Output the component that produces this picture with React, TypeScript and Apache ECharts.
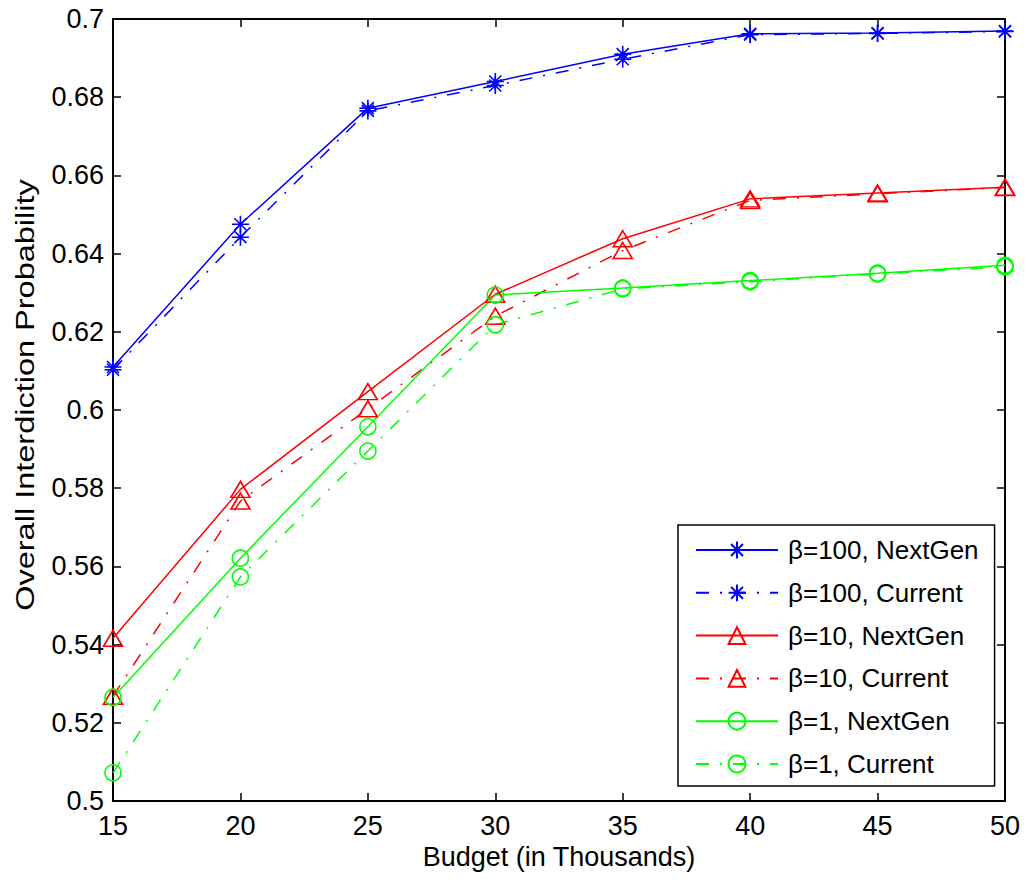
import React, { useEffect, useRef } from "react";
import * as echarts from "echarts";

const budgets = [15, 20, 25, 30, 35, 40, 45, 50];
const b100NextGen = [0.611, 0.6475, 0.6772, 0.684, 0.691, 0.6962, 0.6964, 0.6969];
const b100Current = [0.6103, 0.6442, 0.6765, 0.683, 0.6897, 0.696, 0.6963, 0.6968];
const b10NextGen = [0.5416, 0.5797, 0.6047, 0.6296, 0.6438, 0.654, 0.6555, 0.657];
const b10Current = [0.5268, 0.5767, 0.6003, 0.624, 0.6408, 0.6536, 0.6553, 0.6569];
const b1NextGen = [0.5265, 0.5621, 0.5957, 0.6294, 0.6312, 0.6331, 0.635, 0.637];
const b1Current = [0.5072, 0.5573, 0.5895, 0.6218, 0.631, 0.6328, 0.6348, 0.6366];

const seriesNames = [
  "β=100, NextGen",
  "β=100, Current",
  "β=10, NextGen",
  "β=10, Current",
  "β=1, NextGen",
  "β=1, Current",
];

const FONT = "'Liberation Sans', Arial, Helvetica, sans-serif";
const STAR = "path://M0,-10L0,10M-10,0L10,0M-7.07,-7.07L7.07,7.07M-7.07,7.07L7.07,-7.07";
const DASHDOT = [13, 11, 2, 11];

function mk(name: string, vals: number[], color: string, symbol: string, size: any, dashed: boolean) {
  return {
    name,
    type: "line",
    xAxisIndex: 0,
    yAxisIndex: 0,
    data: budgets.map((b, i) => [b, vals[i]]),
    symbol,
    symbolSize: size,
    showSymbol: true,
    lineStyle: { color, width: 1.5, type: dashed ? DASHDOT : "solid" },
    itemStyle: { color: "rgba(0,0,0,0)", borderColor: color, borderWidth: 1.6 },
    emphasis: { disabled: true },
    z: 3,
  };
}

export default function App() {
  const ref = useRef<HTMLDivElement>(null);
  useEffect(() => {
    if (!ref.current) return;
    const chart = echarts.init(ref.current, undefined, { renderer: "svg" });
    const axisLine = { show: true, lineStyle: { color: "#000", width: 2 } };
    const tick = { show: true, inside: true, length: 8, lineStyle: { color: "#000", width: 1.5 } };
    chart.setOption({
      animation: false,
      backgroundColor: "#fff",
      textStyle: { fontFamily: FONT },
      grid: { left: 113, right: 22, top: 19, bottom: 83, containLabel: false },
      xAxis: [
        {
          type: "value",
          min: 15,
          max: 50,
          interval: 5,
          axisLine,
          axisTick: tick,
          splitLine: { show: false },
          axisLabel: { color: "#000", fontSize: 27, fontFamily: FONT, margin: 11 },
          name: "Budget (in Thousands)",
          nameLocation: "middle",
          nameGap: 38,
          nameTextStyle: { color: "#000", fontSize: 27, fontFamily: FONT },
        },
        {
          type: "value",
          position: "top",
          min: 15,
          max: 50,
          interval: 5,
          axisLine,
          axisTick: tick,
          splitLine: { show: false },
          axisLabel: { show: false },
        },
      ],
      yAxis: [
        {
          type: "value",
          min: 0.5,
          max: 0.7,
          interval: 0.02,
          axisLine,
          axisTick: tick,
          splitLine: { show: false },
          axisLabel: {
            color: "#000",
            fontSize: 27,
            fontFamily: FONT,
            margin: 9,
            formatter: (v: number) => String(parseFloat(v.toFixed(2))),
          },
        },
        {
          type: "value",
          position: "right",
          min: 0.5,
          max: 0.7,
          interval: 0.02,
          axisLine,
          axisTick: tick,
          splitLine: { show: false },
          axisLabel: { show: false },
        },
      ],
      legend: {
        orient: "vertical",
        left: 678,
        top: 525,
        data: seriesNames,
        itemWidth: 82,
        itemHeight: 21,
        itemGap: 14.8,
        padding: [11, 16, 8, 17],
        borderColor: "#000",
        borderWidth: 1.5,
        backgroundColor: "#fff",
        textStyle: { color: "#000", fontSize: 26, fontFamily: FONT, lineHeight: 28, padding: [0, 0, 0, 5] },
        selectedMode: false,
        z: 10,
      },
      graphic: [
        {
          type: "text",
          x: 25,
          y: 395,
          rotation: Math.PI / 2,
          scaleX: 1.25,
          style: {
            text: "Overall Interdiction Probability",
            fontSize: 26,
            fontFamily: FONT,
            fill: "#000",
            textAlign: "center",
            textVerticalAlign: "middle",
          },
        },
      ],
      series: [
        mk(seriesNames[0], b100NextGen, "#0000ff", STAR, 17, false),
        mk(seriesNames[1], b100Current, "#0000ff", STAR, 17, true),
        mk(seriesNames[2], b10NextGen, "#ff0000", "triangle", [19, 16], false),
        mk(seriesNames[3], b10Current, "#ff0000", "triangle", [19, 16], true),
        mk(seriesNames[4], b1NextGen, "#00ff00", "circle", 16, false),
        mk(seriesNames[5], b1Current, "#00ff00", "circle", 16, true),
      ],
    });
    return () => chart.dispose();
  }, []);
  return (
    <div
      ref={ref}
      style={{ position: "absolute", left: 0, top: 0, width: 1027, height: 884 }}
    />
  );
}
